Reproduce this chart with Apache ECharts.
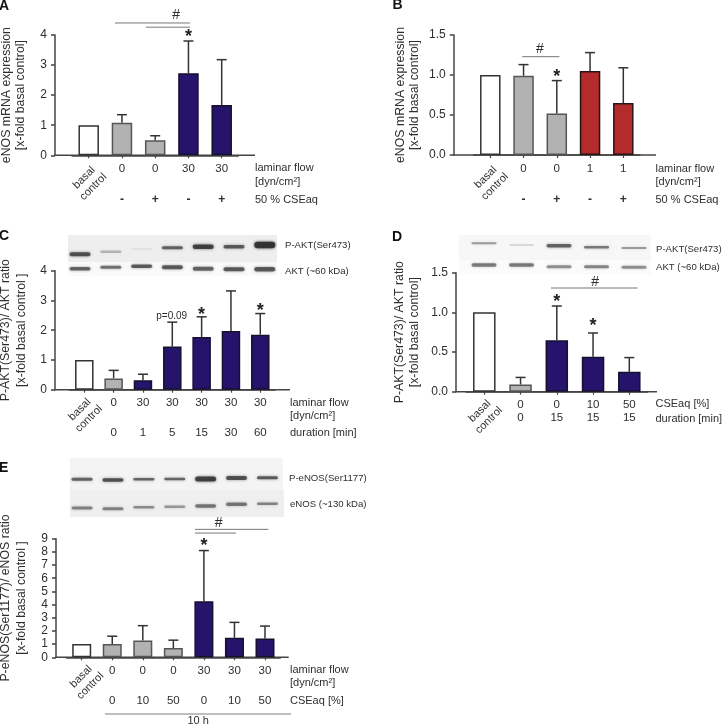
<!DOCTYPE html>
<html><head><meta charset="utf-8">
<style>html,body{margin:0;padding:0;background:#fff}#c{width:722px;height:725px}</style>
<script src="https://cdn.jsdelivr.net/npm/echarts@6/dist/echarts.min.js"></script>
</head><body><div id="c"></div>
<script>
// ---------- data ----------
var aValues=[1,1.08,0.5,2.73,1.67], aUpper=[1,1.35,0.65,3.8,3.18], aKinds=['w','g','g','n','n'];
var aFlow=['0','0','30','30'], aCse=['-','+','-','+'];
var bValues=[1,0.99,0.52,1.05,0.65], bUpper=[1,1.13,0.93,1.28,1.09], bKinds=['w','g','g','r','r'];
var bFlow=['0','0','1','1'], bCse=['-','+','-','+'];
var cValues=[1,0.38,0.32,1.45,1.77,1.97,1.85], cUpper=[1,0.65,0.52,2.27,2.45,3.32,2.56], cKinds=['w','g','n','n','n','n','n'];
var cFlow=['0','30','30','30','30','30'], cDuration=['0','1','5','15','30','60'];
var dValues=[1,0.09,0.65,0.44,0.25], dUpper=[1,0.18,1.08,0.74,0.43], dKinds=['w','g','n','n','n'];
var dCse=['0','0','10','50'], dDuration=['0','15','15','15'];
var eValues=[1,1,1.28,0.7,4.25,1.48,1.43], eUpper=[1,1.6,2.4,1.3,8.1,2.65,2.37], eKinds=['w','g','g','g','n','n','n'];
var eFlow=['0','0','0','30','30','30'], eCse=['0','10','50','0','10','50'];
// blot lanes: density, band thickness, band level
var cBlotP={d:[.8,.3,.1,.7,.9,.75,1],t:[4,2.5,1.5,3,4.5,3.5,6.5],l:[22.3,19.7,17,15.7,14.7,14.7,13]};
var cBlotA={d:[.7,.65,.75,.75,.7,.75,.75],t:[3.5,3,3.5,4,4,4,4.5],l:[36.7,35.3,34.3,35.3,36.7,37.3,37.3]};
var dBlotP={d:[.45,.2,.7,.6,.45],t:[2,1.5,3.5,2.5,2],l:[8.3,10,10.7,12.3,13]};
var dBlotA={d:[.6,.6,.5,.55,.5],t:[3.5,3.5,3,3,3],l:[30,30,31.7,31.7,32.3]};
var eBlotP={d:[.7,.8,.7,.7,.9,.8,.75],t:[3,3.5,2.5,2.5,5,4,3],l:[21.3,22,21.3,21,21,20,19.7]};
var eBlotE={d:[.55,.55,.5,.45,.6,.6,.55],t:[3,3,2.5,2.5,3.5,3.5,2.5],l:[50,50.7,49.3,48.7,48,46.3,45.7]};

// ---------- styles ----------
var FF='"Liberation Sans",Arial,sans-serif', TXT='#2e2e2e', AX='#444';
var FILL={w:'#ffffff',g:'#b2b2b2',n:'#26146c',r:'#b32b2b'}, EDGE={w:'#333',g:'#555',n:'#14102e',r:'#2a1515'};
var option={animation:false,backgroundColor:'#fff',grid:[],xAxis:[],yAxis:[],series:[],graphic:[]};

// position on a panel, with t counted in bars from 1 (may fall between or beyond bars)
function px(api,t,y){var a=api.coord([0,y]),b=api.coord([1,y]);return [a[0]+(b[0]-a[0])*(t-1),a[1]];}

function textSeries(idx,items){
  return {type:'custom',xAxisIndex:idx,yAxisIndex:idx,silent:true,z:5,clip:false,
    data:items.map(function(t){return [0,t.y];}),
    renderItem:function(p,api){
      var t=items[p.dataIndex], c=px(api,t.x,t.y);
      return {type:'text',x:c[0]+(t.dx||0),y:c[1]+(t.dy||0),rotation:t.rot||0,silent:true,
        style:{text:t.text,fill:t.fill||TXT,font:t.font||('11px '+FF),lineHeight:t.lh||undefined,align:'center',verticalAlign:'middle'}};
    }};
}
function panel(cfg){
  var idx=option.grid.length, n=cfg.values.length;
  var gLeft=cfg.c1-cfg.band/2, gWidth=n*cfg.band, axisY=cfg.top+cfg.height;
  option.grid.push({left:gLeft,top:cfg.top,width:gWidth,height:cfg.height,outerBoundsMode:'none'});
  var line={show:true,onZero:false,lineStyle:{color:AX,width:1.5}};
  option.xAxis.push({type:'category',gridIndex:idx,data:['basal control'].concat(cfg.row1),axisLine:line,splitLine:{show:false},
    axisTick:{show:true,length:3,alignWithLabel:true,lineStyle:{color:AX,width:1.2}},
    axisLabel:{show:true,interval:0,margin:7.5,color:TXT,fontFamily:FF,fontSize:11.5,
      formatter:function(v,i){return i===0?'':v;}}});
  option.yAxis.push({type:'value',gridIndex:idx,min:0,max:cfg.ymax,interval:cfg.yint,offset:gLeft-cfg.left,axisLine:line,splitLine:{show:false},
    axisTick:{show:true,length:4,lineStyle:{color:AX,width:1.5}},
    axisLabel:{margin:8,color:TXT,fontFamily:FF,fontSize:12,formatter:function(v){return v.toFixed(cfg.dec);}},
    name:cfg.title,nameLocation:'middle',nameGap:cfg.nameGap,nameRotate:90,
    nameTextStyle:{color:TXT,fontFamily:FF,fontSize:12.3,lineHeight:cfg.nameLh}});
  // the drawn baseline runs on from the y axis to the captions
  option.graphic.push({type:'line',silent:true,z:1,shape:{x1:cfg.left-0.75,y1:axisY,x2:cfg.left+cfg.width,y2:axisY},style:{stroke:AX,lineWidth:1.5}});
  option.series.push({type:'bar',xAxisIndex:idx,yAxisIndex:idx,barWidth:cfg.barW+1,silent:true,z:3,
    data:cfg.values.map(function(v,i){return {value:v,itemStyle:{color:FILL[cfg.kinds[i]],borderColor:EDGE[cfg.kinds[i]],borderWidth:1.5}};})});
  option.series.push({type:'custom',xAxisIndex:idx,yAxisIndex:idx,silent:true,z:2,clip:false,
    data:cfg.values.map(function(v,i){return [i,v,cfg.upper[i]];}),
    renderItem:function(p,api){
      if(cfg.kinds[p.dataIndex]==='w')return null;
      var a=api.coord([p.dataIndex,api.value(1)]), b=api.coord([p.dataIndex,api.value(2)]);
      var st={stroke:'#333',lineWidth:1.5,fill:null};
      return {type:'group',children:[
        {type:'line',shape:{x1:a[0],y1:a[1],x2:b[0],y2:b[1]},style:st},
        {type:'line',shape:{x1:b[0]-5,y1:b[1],x2:b[0]+5,y2:b[1]},style:st}]};
    }});
  if(cfg.brackets&&cfg.brackets.length)option.series.push({type:'custom',xAxisIndex:idx,yAxisIndex:idx,silent:true,z:2,clip:false,
    data:cfg.brackets.map(function(b){return [0,b[2]];}),
    renderItem:function(p,api){
      var s=cfg.brackets[p.dataIndex], a=px(api,s[0],s[2]), b=px(api,s[1],s[2]);
      return {type:'line',shape:{x1:a[0],y1:a[1],x2:b[0],y2:b[1]},style:{stroke:'#777',lineWidth:1}};
    }});
  var items=[{x:1,y:0,dx:cfg.basalDx,dy:cfg.basalDy,text:'basal\ncontrol',rot:Math.PI/4,lh:13,font:'11px '+FF}];
  (cfg.row2||[]).forEach(function(s,i){items.push({x:i+2,y:0,dy:cfg.row2Dy,text:s,font:cfg.row2Font||('11.5px '+FF)});});
  (cfg.notes||[]).forEach(function(t){items.push(t);});
  option.series.push(textSeries(idx,items));
}
function star(x,y){return {x:x,y:y,dy:3,text:'*',font:'bold 18px '+FF,fill:'#222'};}
function hash(x,y){return {x:x,y:y,text:'#',font:'14px '+FF};}
function blot(cfg){
  var idx=option.grid.length, lanes=cfg.rows[0].d.map(function(v,i){return String(i);});
  option.grid.push({left:cfg.left,top:cfg.top,width:cfg.width,height:cfg.height,outerBoundsMode:'none'});
  option.xAxis.push({type:'category',gridIndex:idx,show:false,data:lanes});
  option.yAxis.push({type:'value',gridIndex:idx,show:false,inverse:true,min:0,max:cfg.height});
  cfg.rows.forEach(function(r){
    option.series.push({type:'custom',xAxisIndex:idx,yAxisIndex:idx,silent:true,z:1,clip:false,
      data:r.l.map(function(l,i){return [i,l];}),
      renderItem:function(p,api){
        var i=p.dataIndex,c=api.coord([i,r.l[i]]),w=cfg.lane,h=r.t[i],col='rgba(45,45,45,'+(r.d[i]*0.9)+')';
        return {type:'rect',shape:{x:c[0]-w/2,y:c[1]-h/2,width:w,height:h,r:h/2},
          style:{fill:col,shadowBlur:3,shadowColor:col}};
      }});
  });
}
function gText(x,y,s,font,extra){
  var o={type:'text',x:x,y:y,silent:true,z:6,style:{text:s,fill:TXT,font:font||('11px '+FF),align:'left',verticalAlign:'middle'}};
  if(extra)for(var k in extra)o.style[k]=extra[k];
  option.graphic.push(o);
}
function gRect(x,y,w,h,c){option.graphic.push({type:'rect',z:-1,silent:true,shape:{x:x,y:y,width:w,height:h},style:{fill:c}});}

// ---------- backgrounds of blots ----------
gRect(68,235,209,27,'#eeeeee'); gRect(68,262,209,14,'#fafafa');
gRect(459,235,192,25,'#f7f7f7'); gRect(459,260,192,15,'#fbfbfb');
gRect(70,458,213,32,'#f4f4f4'); gRect(70,490,214,27,'#efefef');

// ---------- panels ----------
blot({left:64.6,top:232,width:215.6,height:50,lane:21,rows:[cBlotP,cBlotA]});
blot({left:465.25,top:235,width:187.5,height:40,lane:25,rows:[dBlotP,dBlotA]});
blot({left:66.6,top:458,width:216.3,height:60,lane:21,rows:[eBlotP,eBlotE]});

var signFont='bold 12px '+FF;
panel({left:55,top:35,width:200,height:120.3,c1:88.7,band:33.25,barW:19.5,ymax:4,yint:1,dec:0,values:aValues,upper:aUpper,kinds:aKinds,
  title:'eNOS mRNA expression\n[x-fold basal control]',nameGap:27,nameLh:14,row1:aFlow,row2:aCse,row2Dy:44,row2Font:signFont,basalDx:0,basalDy:27,
  brackets:[[1.79,4.05,4.4],[2.72,4.05,4.26]],notes:[hash(3.63,4.67),star(4,4.03)]});
panel({left:453.7,top:35,width:202.3,height:120,c1:490.3,band:33.25,barW:19.5,ymax:1.5,yint:.5,dec:1,values:bValues,upper:bUpper,kinds:bKinds,
  title:'eNOS mRNA expression\n[x-fold basal control]',nameGap:32.5,nameLh:14,row1:bFlow,row2:bCse,row2Dy:44.5,row2Font:signFont,basalDx:0,basalDy:27,
  brackets:[[1.96,3.08,1.229]],notes:[hash(2.49,1.325),star(3,1.01)]});
panel({left:55,top:270.7,width:235,height:119,c1:84.3,band:29.33,barW:17.5,ymax:4,yint:1,dec:0,values:cValues,upper:cUpper,kinds:cKinds,
  title:'P-AKT(Ser473)/ AKT ratio\n[x-fold basal control ]',nameGap:25,nameLh:16.5,row1:cFlow,row2:cDuration,row2Dy:43,basalDx:0,basalDy:24.5,
  notes:[{x:3.98,y:2.48,text:'p=0.09',font:'10px '+FF},star(5,2.62),star(7,2.76)]});
panel({left:456,top:272.7,width:201,height:119,c1:484.3,band:36.25,barW:21.5,ymax:1.5,yint:.5,dec:1,values:dValues,upper:dUpper,kinds:dKinds,
  title:'P-AKT(Ser473)/ AKT ratio\n[x-fold basal control]',nameGap:34,nameLh:15,row1:dCse,row2:dDuration,row2Dy:26.5,basalDx:0,basalDy:24,
  brackets:[[2.84,5.23,1.307]],notes:[hash(4.06,1.38),star(3,1.17),star(4,0.87)]});
panel({left:56,top:538.7,width:232.7,height:118.6,c1:81.7,band:30.55,barW:18,ymax:9,yint:1,dec:0,values:eValues,upper:eUpper,kinds:eKinds,
  title:'P-eNOS(Ser1177)/ eNOS ratio\n[x-fold basal control ]',nameGap:26,nameLh:16.5,row1:eFlow,row2:eCse,row2Dy:43.5,basalDx:4,basalDy:24,
  brackets:[[4.71,7.11,9.71],[4.71,6.05,9.43]],notes:[hash(5.48,10.2),star(5,8.7),{x:5.0,y:0,dx:-5.7,dy:63.5,text:'10 h',font:'11px '+FF}]});

// ---------- panel letters and row captions ----------
var LET='bold 14px '+FF;
gText(-1,6,'A',LET,{fill:'#111'}); gText(392.5,5.5,'B',LET,{fill:'#111'}); gText(-1,236,'C',LET,{fill:'#111'});
gText(392,237,'D',LET,{fill:'#111'}); gText(-1,468,'E',LET,{fill:'#111'});
gText(255,168,'laminar flow'); gText(255,181.5,'[dyn/cm²]'); gText(255,199.5,'50 % CSEaq');
gText(655.5,169,'laminar flow'); gText(655.5,182,'[dyn/cm²]'); gText(655.5,200,'50 % CSEaq');
gText(290,402.5,'laminar flow'); gText(290,415.5,'[dyn/cm²]'); gText(290,432.5,'duration [min]');
gText(655.5,403.5,'CSEaq [%]'); gText(655.5,418.5,'duration [min]');
gText(290,669.5,'laminar flow'); gText(290,682.5,'[dyn/cm²]'); gText(290,700.5,'CSEaq [%]');
var BL='9.6px '+FF;
gText(285,245,'P-AKT(Ser473)',BL); gText(285,271,'AKT (~60 kDa)',BL);
gText(656,249,'P-AKT(Ser473)',BL); gText(656,267.5,'AKT (~60 kDa)',BL);
gText(289,478,'P-eNOS(Ser1177)',BL); gText(290,504,'eNOS (~130 kDa)',BL);
option.graphic.push({type:'line',silent:true,shape:{x1:105,y1:714,x2:291,y2:714},style:{stroke:'#aaa',lineWidth:1.5}});

echarts.init(document.getElementById('c'),null,{renderer:'canvas'}).setOption(option);
</script></body></html>
